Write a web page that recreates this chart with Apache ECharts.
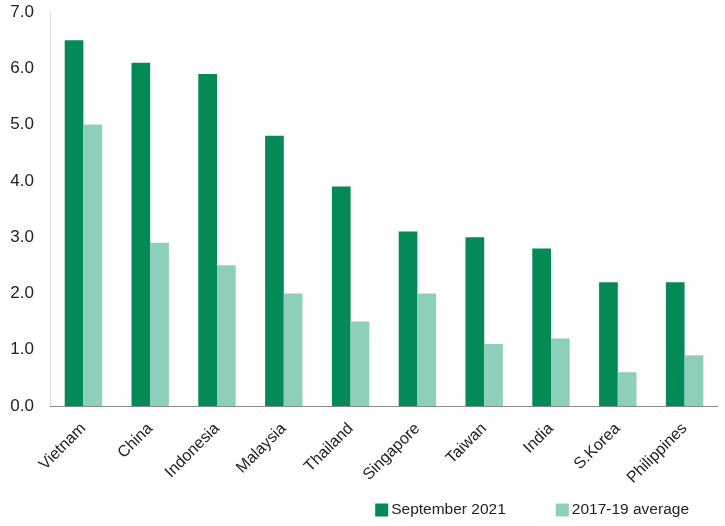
<!DOCTYPE html>
<html>
<head>
<meta charset="utf-8">
<script src="https://cdn.jsdelivr.net/npm/echarts@6/dist/echarts.min.js"></script>
<style>
  html, body { margin: 0; padding: 0; background: #fff; }
  #graph { width: 725px; height: 526px; }
</style>
</head>
<body>
<div id="graph"></div>
<script>
var countries = ['Vietnam', 'China', 'Indonesia', 'Malaysia', 'Thailand', 'Singapore', 'Taiwan', 'India', 'S.Korea', 'Philippines'];
var sept2021 = [6.5, 6.1, 5.9, 4.8, 3.9, 3.1, 3.0, 2.8, 2.2, 2.2];
var avg201719 = [5.0, 2.9, 2.5, 2.0, 1.5, 2.0, 1.1, 1.2, 0.6, 0.9];

var chart = echarts.init(document.getElementById('graph'));

// police condensée proche de l'original
var font = '"Liberation Sans Narrow", "Arial Narrow", "Liberation Sans", sans-serif';

var option = {
    animation: false,
    grid: { left: 50, right: 7, top: 12, bottom: 120 },
    legend: {
        right: 31,
        bottom: 3,
        itemWidth: 13,
        itemHeight: 13,
        itemGap: 50,
        icon: 'rect',
        textStyle: { fontFamily: font, fontSize: 15.5, color: '#222', padding: [0, 0, 0, -2] },
        data: ['September 2021', '2017-19 average']
    },
    xAxis: {
        type: 'category',
        data: countries,
        axisLine: { lineStyle: { color: '#888' } },
        axisTick: { show: false },
        axisLabel: {
            rotate: 45,
            interval: 0,
            margin: 20,
            fontFamily: font,
            fontSize: 16,
            color: '#222'
        }
    },
    yAxis: {
        type: 'value',
        min: 0,
        max: 7,
        interval: 1,
        axisLine: { show: true, lineStyle: { color: '#ddd' } },
        splitLine: { show: false },
        axisLabel: {
            formatter: function (v) { return v.toFixed(1); },
            margin: 16,
            fontFamily: font,
            fontSize: 17,
            color: '#222'
        }
    },
    series: [{
        name: 'September 2021',
        type: 'bar',
        data: sept2021,
        barWidth: '28%',
        barGap: '0%',
        itemStyle: { color: '#038a57' }
    }, {
        name: '2017-19 average',
        type: 'bar',
        data: avg201719,
        barWidth: '28%',
        itemStyle: { color: '#8ecfba' }
    }]
};

chart.setOption(option);
</script>
</body>
</html>
